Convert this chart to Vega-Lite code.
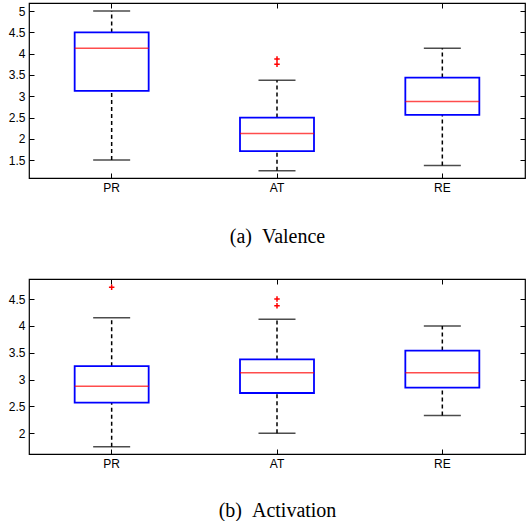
{
  "$schema": "https://vega.github.io/schema/vega-lite/v6.json",
  "padding": {"left": 7, "top": 1, "right": 0, "bottom": 0},
  "background": "white",
  "datasets": {
    "valence": [
      {"cond": "PR", "lo": 1.5, "q1": 3.125, "med": 4.125, "q3": 4.5, "hi": 5.0},
      {"cond": "AT", "lo": 1.25, "q1": 1.71, "med": 2.125, "q3": 2.5, "hi": 3.375},
      {"cond": "RE", "lo": 1.375, "q1": 2.5625, "med": 2.875, "q3": 3.4375, "hi": 4.125}
    ],
    "valence_out": [
      {"cond": "AT", "v": 3.875},
      {"cond": "AT", "v": 3.75}
    ],
    "activation": [
      {"cond": "PR", "lo": 1.75, "q1": 2.57, "med": 2.875, "q3": 3.25, "hi": 4.15},
      {"cond": "AT", "lo": 2.0, "q1": 2.75, "med": 3.125, "q3": 3.375, "hi": 4.125},
      {"cond": "RE", "lo": 2.333, "q1": 2.85, "med": 3.125, "q3": 3.54, "hi": 4.0}
    ],
    "activation_out": [
      {"cond": "PR", "v": 4.72},
      {"cond": "AT", "v": 4.5},
      {"cond": "AT", "v": 4.375}
    ]
  },
  "config": {
    "view": {"stroke": "black", "strokeWidth": 1.2},
    "axis": {
      "labelFont": "Liberation Sans", "labelFontSize": 12, "labelColor": "black",
      "domain": false, "tickColor": "black", "tickSize": -5, "tickWidth": 1,
      "grid": false, "labelPadding": 9
    },
    "concat": {"spacing": 30}
  },
  "vconcat": [
    {
      "width": 496, "height": 175,
      "data": {"name": "valence"},
      "resolve": {"axis": {"x": "independent", "y": "independent"}},
      "layer": [
        {
          "mark": {"type": "rule", "color": "black", "strokeDash": [4, 3], "strokeWidth": 1.5},
          "encoding": {
            "x": {"field": "cond", "type": "nominal", "sort": ["PR", "AT", "RE"],
                  "axis": {"orient": "bottom", "labelAngle": 0, "title": "(a)\u00a0\u00a0Valence",
                           "titleFont": "Liberation Serif", "titleFontSize": 20, "titleFontWeight": "normal",
                           "titleColor": "black", "titlePadding": 33}},
            "y": {"field": "lo", "type": "quantitative", "scale": {"domain": [1.08, 5.19], "nice": false, "zero": false},
                  "axis": {"orient": "left", "values": [1.5, 2, 2.5, 3, 3.5, 4, 4.5, 5], "format": "~g", "title": null}},
            "y2": {"field": "q1"}
          }
        },
        {
          "mark": {"type": "rule", "color": "black", "strokeDash": [4, 3], "strokeWidth": 1.5},
          "encoding": {
            "x": {"field": "cond", "type": "nominal", "sort": ["PR", "AT", "RE"],
                  "axis": {"orient": "top", "labels": false, "title": null}},
            "y": {"field": "q3", "type": "quantitative",
                  "axis": {"orient": "right", "labels": false, "values": [1.5, 2, 2.5, 3, 3.5, 4, 4.5, 5], "title": null}},
            "y2": {"field": "hi"}
          }
        },
        {
          "mark": {"type": "tick", "color": "black", "size": 37, "thickness": 1.5},
          "encoding": {
            "x": {"field": "cond", "type": "nominal", "sort": ["PR", "AT", "RE"], "axis": null},
            "y": {"field": "lo", "type": "quantitative", "axis": null}
          }
        },
        {
          "mark": {"type": "tick", "color": "black", "size": 37, "thickness": 1.5},
          "encoding": {
            "x": {"field": "cond", "type": "nominal", "sort": ["PR", "AT", "RE"], "axis": null},
            "y": {"field": "hi", "type": "quantitative", "axis": null}
          }
        },
        {
          "mark": {"type": "bar", "fill": null, "fillOpacity": 0, "stroke": "#0000ff", "strokeWidth": 1.8, "size": 74},
          "encoding": {
            "x": {"field": "cond", "type": "nominal", "sort": ["PR", "AT", "RE"], "axis": null},
            "y": {"field": "q1", "type": "quantitative", "axis": null},
            "y2": {"field": "q3"}
          }
        },
        {
          "mark": {"type": "tick", "color": "#ff0000", "size": 74, "thickness": 1.5},
          "encoding": {
            "x": {"field": "cond", "type": "nominal", "sort": ["PR", "AT", "RE"], "axis": null},
            "y": {"field": "med", "type": "quantitative", "axis": null}
          }
        },
        {
          "data": {"name": "valence_out"},
          "mark": {"type": "point", "shape": "M-1,0H1M0,-1V1", "size": 30, "filled": false, "stroke": "#ff0000", "strokeWidth": 1.5, "opacity": 1},
          "encoding": {
            "x": {"field": "cond", "type": "nominal", "sort": ["PR", "AT", "RE"], "axis": null},
            "y": {"field": "v", "type": "quantitative", "axis": null}
          }
        }
      ]
    },
    {
      "width": 496, "height": 175,
      "data": {"name": "activation"},
      "resolve": {"axis": {"x": "independent", "y": "independent"}},
      "layer": [
        {
          "mark": {"type": "rule", "color": "black", "strokeDash": [4, 3], "strokeWidth": 1.5},
          "encoding": {
            "x": {"field": "cond", "type": "nominal", "sort": ["PR", "AT", "RE"],
                  "axis": {"orient": "bottom", "labelAngle": 0, "title": "(b)\u00a0\u00a0Activation",
                           "titleFont": "Liberation Serif", "titleFontSize": 20, "titleFontWeight": "normal",
                           "titleColor": "black", "titlePadding": 31}},
            "y": {"field": "lo", "type": "quantitative", "scale": {"domain": [1.614, 4.873], "nice": false, "zero": false},
                  "axis": {"orient": "left", "values": [2, 2.5, 3, 3.5, 4, 4.5], "format": "~g", "title": null}},
            "y2": {"field": "q1"}
          }
        },
        {
          "mark": {"type": "rule", "color": "black", "strokeDash": [4, 3], "strokeWidth": 1.5},
          "encoding": {
            "x": {"field": "cond", "type": "nominal", "sort": ["PR", "AT", "RE"],
                  "axis": {"orient": "top", "labels": false, "title": null}},
            "y": {"field": "q3", "type": "quantitative",
                  "axis": {"orient": "right", "labels": false, "values": [2, 2.5, 3, 3.5, 4, 4.5], "title": null}},
            "y2": {"field": "hi"}
          }
        },
        {
          "mark": {"type": "tick", "color": "black", "size": 37, "thickness": 1.5},
          "encoding": {
            "x": {"field": "cond", "type": "nominal", "sort": ["PR", "AT", "RE"], "axis": null},
            "y": {"field": "lo", "type": "quantitative", "axis": null}
          }
        },
        {
          "mark": {"type": "tick", "color": "black", "size": 37, "thickness": 1.5},
          "encoding": {
            "x": {"field": "cond", "type": "nominal", "sort": ["PR", "AT", "RE"], "axis": null},
            "y": {"field": "hi", "type": "quantitative", "axis": null}
          }
        },
        {
          "mark": {"type": "bar", "fill": null, "fillOpacity": 0, "stroke": "#0000ff", "strokeWidth": 1.8, "size": 74},
          "encoding": {
            "x": {"field": "cond", "type": "nominal", "sort": ["PR", "AT", "RE"], "axis": null},
            "y": {"field": "q1", "type": "quantitative", "axis": null},
            "y2": {"field": "q3"}
          }
        },
        {
          "mark": {"type": "tick", "color": "#ff0000", "size": 74, "thickness": 1.5},
          "encoding": {
            "x": {"field": "cond", "type": "nominal", "sort": ["PR", "AT", "RE"], "axis": null},
            "y": {"field": "med", "type": "quantitative", "axis": null}
          }
        },
        {
          "data": {"name": "activation_out"},
          "mark": {"type": "point", "shape": "M-1,0H1M0,-1V1", "size": 30, "filled": false, "stroke": "#ff0000", "strokeWidth": 1.5, "opacity": 1},
          "encoding": {
            "x": {"field": "cond", "type": "nominal", "sort": ["PR", "AT", "RE"], "axis": null},
            "y": {"field": "v", "type": "quantitative", "axis": null}
          }
        }
      ]
    }
  ]
}
